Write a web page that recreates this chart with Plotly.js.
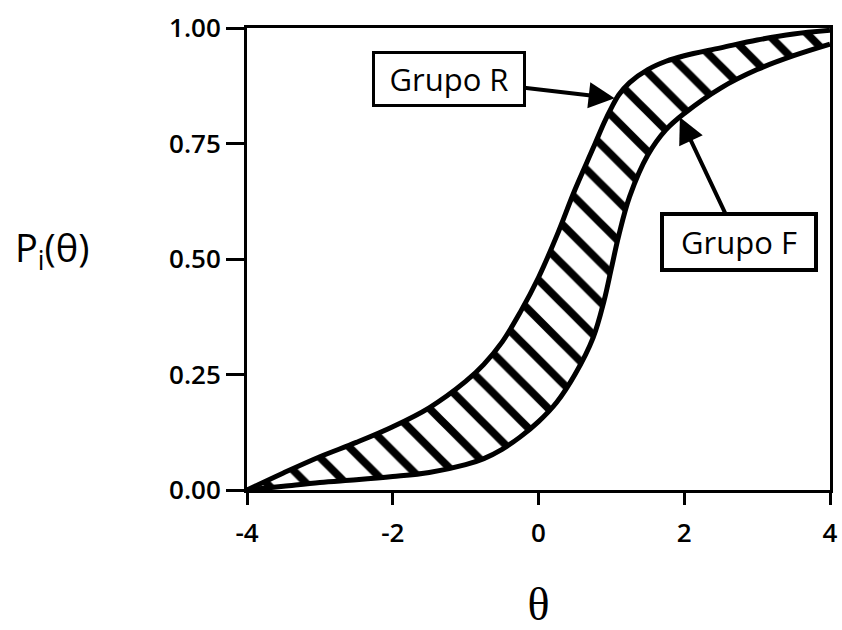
<!DOCTYPE html>
<html>
<head>
<meta charset="utf-8">
<script src="https://cdn.plot.ly/plotly-3.0.1.min.js"></script>
<style>
html,body{margin:0;padding:0;background:#fff;}
#chart{width:842px;height:630px;}
</style>
</head>
<body>
<div id="chart"></div>
<script>
// theta values (ability)
var theta  = [-4, -3.5, -3, -2.5, -2, -1.5, -1, -0.75, -0.5, -0.25, 0, 0.25, 0.5, 0.75, 0.9, 1, 1.1, 1.25, 1.5, 1.75, 2, 2.5, 3, 3.5, 4];
// Grupo R (reference group) ICC
var grupoR = [0.0, 0.037, 0.072, 0.103, 0.137, 0.178, 0.235, 0.272, 0.32, 0.385, 0.46, 0.55, 0.65, 0.74, 0.795, 0.827, 0.855, 0.882, 0.91, 0.928, 0.94, 0.957, 0.974, 0.987, 0.995];
// Grupo F (focal group) ICC
var grupoF = [0.0, 0.008, 0.016, 0.022, 0.029, 0.038, 0.055, 0.068, 0.088, 0.115, 0.148, 0.19, 0.25, 0.33, 0.41, 0.48, 0.55, 0.635, 0.725, 0.78, 0.815, 0.87, 0.91, 0.94, 0.965];
// axis ticks
var xTickVals = [-4, -2, 0, 2, 4];
var xTickText = ['-4', '-2', '0', '2', '4'];
var yTickVals = [0, 0.25, 0.5, 0.75, 1];
var yTickText = ['0.00', '0.25', '0.50', '0.75', '1.00'];
// labels
var labelR = 'Grupo R';
var labelF = 'Grupo F';

var sans = 'Open Sans, Noto Sans, sans-serif';

var traces = [
  {
    x: theta, y: grupoF, type: 'scatter', mode: 'lines', name: labelF,
    line: {color: 'black', width: 5, shape: 'spline', smoothing: 1},
    hoverinfo: 'skip'
  },
  {
    x: theta, y: grupoR, type: 'scatter', mode: 'lines', name: labelR,
    line: {color: 'black', width: 5, shape: 'spline', smoothing: 1},
    fill: 'tonexty', fillcolor: 'white',
    fillpattern: {shape: '\\', size: 28, solidity: 0.28, fgcolor: 'black', bgcolor: 'white', fillmode: 'replace'},
    hoverinfo: 'skip'
  }
];

var layout = {
  width: 842, height: 630,
  margin: {l: 247, r: 12, t: 28, b: 140, pad: 0},
  paper_bgcolor: 'white', plot_bgcolor: 'white',
  showlegend: false,
  font: {family: sans, color: 'black'},
  xaxis: {
    range: [-4, 4], tickmode: 'array', tickvals: xTickVals, ticktext: xTickText,
    ticks: 'outside', ticklen: 12, tickwidth: 3, tickcolor: 'black',
    ticklabelstandoff: 6,
    showline: true, linewidth: 3, linecolor: 'black', mirror: true,
    showgrid: false, zeroline: false,
    tickfont: {family: sans, size: 26, color: 'black', weight: 600},
    title: {text: 'θ', font: {family: 'Liberation Serif, Times New Roman, serif', size: 46, color: 'black'}, standoff: 58}
  },
  yaxis: {
    range: [0, 1], tickmode: 'array', tickvals: yTickVals, ticktext: yTickText,
    ticks: 'outside', ticklen: 18, tickwidth: 3, tickcolor: 'black',
    showline: true, linewidth: 3, linecolor: 'black', mirror: true,
    showgrid: false, zeroline: false,
    tickfont: {family: sans, size: 26, color: 'black', weight: 600}
  },
  annotations: [
    {
      xref: 'paper', yref: 'paper', x: -0.335, y: 0.52, xanchor: 'center', yanchor: 'middle',
      text: 'P<sub>i</sub>(θ)', showarrow: false,
      font: {family: sans, size: 38, color: 'black'}
    },
    {
      x: 1.045, y: 0.848, xref: 'x', yref: 'y',
      text: labelR, showarrow: true, ax: -166, ay: -19, axref: 'pixel', ayref: 'pixel',
      arrowhead: 2, arrowsize: 1.3, arrowwidth: 4, arrowcolor: 'black',
      width: 148, height: 50, borderpad: 0,
      bordercolor: 'black', borderwidth: 3, bgcolor: 'white',
      font: {family: sans, size: 31, color: 'black'}
    },
    {
      x: 1.94, y: 0.807, xref: 'x', yref: 'y',
      text: labelF, showarrow: true, ax: 59, ay: 125, axref: 'pixel', ayref: 'pixel',
      arrowhead: 2, arrowsize: 1.3, arrowwidth: 4, arrowcolor: 'black',
      width: 150, height: 52, borderpad: 0,
      bordercolor: 'black', borderwidth: 4, bgcolor: 'white',
      font: {family: sans, size: 31, color: 'black'}
    }
  ]
};

Plotly.newPlot('chart', traces, layout, {displayModeBar: false, staticPlot: true});
</script>
</body>
</html>
